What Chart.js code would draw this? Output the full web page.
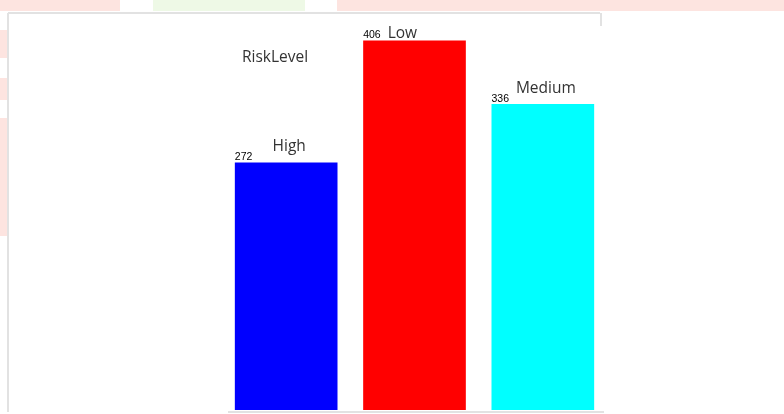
<!DOCTYPE html>
<html>
<head>
<meta charset="utf-8">
<script src="https://cdn.jsdelivr.net/npm/chart.js@4.4.0/dist/chart.umd.min.js"></script>
<style>
  html, body { margin: 0; padding: 0; background: #fff; }
  #wrap { width: 784px; height: 414px; position: relative; }
</style>
</head>
<body>
<div id="wrap"><canvas id="riskChart" width="784" height="414"></canvas></div>
<script>
// データ
let riskLabels = ['High', 'Low', 'Medium'];
let riskCounts = [272, 406, 336];
let riskColors = ['#0000ff', '#ff0000', '#00ffff'];
let chartTitle = 'RiskLevel';

// 背景(スクリーンショットの余白っぽい色帯と枠)
let bgPlugin = {
  id: 'bgPlugin',
  beforeDraw: function(chart) {
    let ctx = chart.ctx;
    ctx.save();
    ctx.fillStyle = '#fff';
    ctx.fillRect(0, 0, chart.width, chart.height);
    ctx.fillStyle = '#fde4e0';
    ctx.fillRect(0, 0, 120, 11);
    ctx.fillRect(337, 0, 447, 11);
    ctx.fillRect(0, 30, 7, 28);
    ctx.fillRect(0, 78, 7, 22);
    ctx.fillRect(0, 118, 7, 118);
    ctx.fillStyle = '#eef9e6';
    ctx.fillRect(153, 0, 152, 11);
    // 枠線
    ctx.strokeStyle = '#e2e2e2';
    ctx.lineWidth = 2;
    ctx.beginPath();
    ctx.moveTo(8, 13);
    ctx.lineTo(8, 412);
    ctx.moveTo(8, 13);
    ctx.lineTo(600, 13);
    ctx.moveTo(228, 412);
    ctx.lineTo(604, 412);
    ctx.moveTo(601, 13);
    ctx.lineTo(601, 26);
    ctx.stroke();
    ctx.restore();
  }
};

// ラベルを描くプラグイン
let labelPlugin = {
  id: 'labelPlugin',
  afterDatasetsDraw: function(chart) {
    let ctx = chart.ctx;
    let meta = chart.getDatasetMeta(0);
    ctx.save();
    // タイトル
    ctx.font = '15.5px "Open Sans", "Noto Sans", sans-serif';
    ctx.fillStyle = '#333';
    ctx.textAlign = 'left';
    ctx.textBaseline = 'middle';
    ctx.fillText(chartTitle, chart.chartArea.left + 20, 58);
    for (let i = 0; i < meta.data.length; i++) {
      let bar = meta.data[i];
      let left = bar.x - bar.width / 2;
      // 値ラベル
      ctx.font = '10.5px "Liberation Sans", Arial, sans-serif';
      ctx.fillStyle = '#000';
      ctx.textAlign = 'left';
      ctx.textBaseline = 'bottom';
      let valText = String(riskCounts[i]);
      ctx.fillText(valText, left, bar.y);
      let valW = ctx.measureText(valText).width;
      // カテゴリラベル
      ctx.font = '15.5px "Open Sans", "Noto Sans", sans-serif';
      ctx.fillStyle = '#333';
      let catY = bar.y - 10;
      if (catY - 16 < 20) {
        // 上に入りきらない時は値ラベルの右に置く
        ctx.textAlign = 'left';
        ctx.fillText(riskLabels[i], left + valW + 7, bar.y + 1);
      } else {
        ctx.textAlign = 'center';
        ctx.fillText(riskLabels[i], bar.x + 3, catY + 2);
      }
    }
    ctx.restore();
  }
};

let ctx = document.getElementById('riskChart');
let riskChart = new Chart(ctx, {
  type: 'bar',
  data: {
    labels: riskLabels,
    datasets: [{
      label: chartTitle,
      data: riskCounts,
      backgroundColor: riskColors,
      borderWidth: 0,
      barPercentage: 0.8,
      categoryPercentage: 1.0
    }]
  },
  options: {
    responsive: false,
    animation: false,
    layout: {
      padding: { left: 222, right: 177, top: 14, bottom: 4 }
    },
    scales: {
      x: { display: false },
      y: { display: false, min: 0, max: 435 }
    },
    plugins: {
      legend: { display: false },
      tooltip: { enabled: false }
    }
  },
  plugins: [bgPlugin, labelPlugin]
});
</script>
</body>
</html>
